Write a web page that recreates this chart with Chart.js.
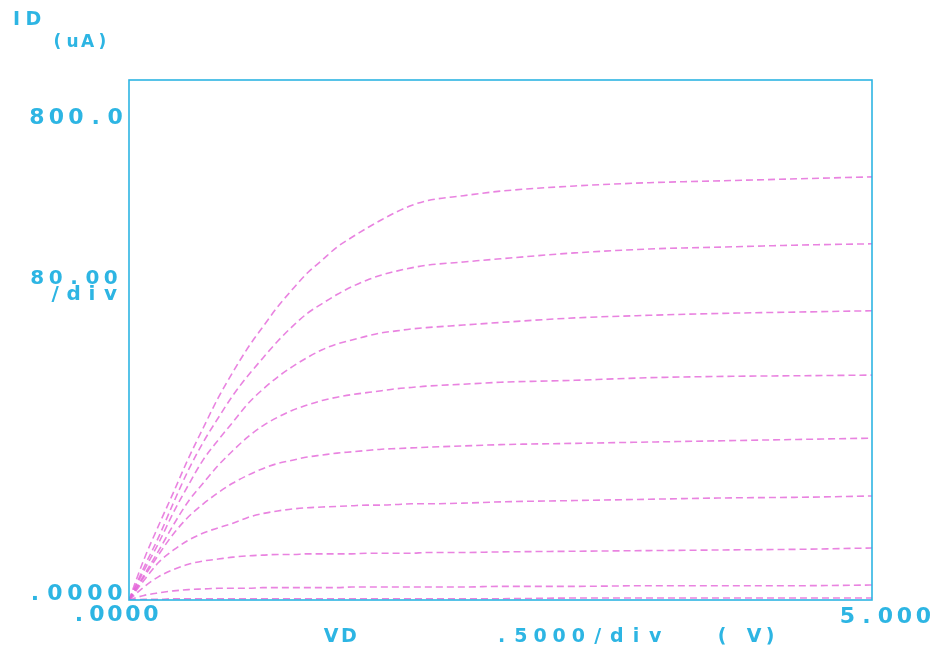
<!DOCTYPE html>
<html>
<head>
<meta charset="utf-8">
<script src="https://cdn.jsdelivr.net/npm/chart.js@4/dist/chart.umd.min.js"></script>
<style>
  html, body { margin: 0; padding: 0; background: #ffffff; }
  #wrap { width: 938px; height: 655px; position: relative; }
</style>
</head>
<body>
<div id="wrap"><canvas id="ivCurve"></canvas></div>
<script>
// drain voltage sweep (V)
var vdValues = [0, 0.1, 0.2, 0.3, 0.4, 0.5, 0.6, 0.7, 0.8, 0.9, 1.0, 1.1, 1.2, 1.3, 1.4,
                1.5, 1.6, 1.7, 1.8, 1.9, 2.0, 2.25, 2.5, 3.0, 3.5, 4.0, 4.5, 5.0];

// drain current (uA), one array per gate step, highest gate first
var idStep1 = [0, 62, 115, 166, 218, 265, 311, 351, 388, 420, 451, 478, 503, 523, 543, 558, 572, 585, 597, 607, 614, 622, 629, 637, 642, 645, 648, 651];
var idStep2 = [0, 50, 97, 150, 200, 243, 280, 315, 345, 372, 398, 421, 441, 456, 470, 482, 492, 500, 506, 511, 515, 520, 525, 534, 540, 543, 546, 548];
var idStep3 = [0, 45, 88, 135, 177, 216, 246, 274, 302, 324, 343, 359, 373, 385, 394, 400, 406, 411, 414, 417, 419, 423, 427, 434, 438, 441, 443, 445];
var idStep4 = [0, 38, 76, 116, 152, 180, 207, 230, 251, 268, 281, 292, 300, 307, 312, 316, 319, 322, 325, 327, 329, 332, 335, 338, 342, 344, 345, 346];
var idStep5 = [0, 35, 70, 102, 128, 148, 165, 180, 192, 202, 210, 215, 220, 223, 226, 228, 230, 232, 233, 234, 235, 237, 239, 241, 243, 245, 247, 249];
var idStep6 = [0, 30, 58, 77, 92, 103, 111, 118, 127, 133, 137, 140, 142, 143, 144, 145, 146, 146, 147, 148, 148, 149, 151, 153, 155, 157, 158, 160];
var idStep7 = [0, 20, 36, 47, 55, 60, 63, 66, 68, 69, 70, 70, 71, 71, 71, 71, 72, 72, 72, 72, 73, 73, 74, 75, 76, 77, 78, 80];
var idStep8 = [0, 7, 11, 14, 16, 17, 18, 18, 18, 19, 19, 19, 19, 19, 19, 20, 20, 20, 20, 20, 20, 20, 21, 21, 22, 22, 22, 23];
var idStep9 = [0, 1, 1, 2, 2, 2, 2, 2, 2, 2, 2, 2, 2, 2, 2, 2, 2, 2, 2, 2, 2, 2, 2, 3, 3, 3, 3, 3];

var idSteps = [idStep1, idStep2, idStep3, idStep4, idStep5, idStep6, idStep7, idStep8, idStep9];

// axis scaling and the printed labels
var vdMin = 0, vdMax = 5;
var idMin = 0, idMax = 800;
var yTopLabel = "800.0";
var yBottomLabel = ".0000";
var yDivLabel = ["80.00", "/div"];
var xLeftLabel = ".0000";
var xRightLabel = "5.000";
var xName = "VD";
var xDivLabel = ".5000/div";
var xUnit = "( V)";
var yName = "ID";
var yUnit = "(uA)";

var penCyan = "#2db5e3";
var penMagenta = "rgba(228, 100, 216, 0.8)";
var penFont = "'DejaVu Sans'";

function toPoints(ys) {
    var pts = [];
    for (var i = 0; i < vdValues.length; i++) {
        pts.push({ x: vdValues[i], y: ys[i] });
    }
    return pts;
}

var datasets = [];
for (var s = 0; s < idSteps.length; s++) {
    datasets.push({
        data: toPoints(idSteps[s]),
        borderColor: penMagenta,
        borderWidth: 1.6,
        borderDash: [7, 4],
        pointRadius: 0,
        fill: false,
        cubicInterpolationMode: "monotone"
    });
}

// draw a string with a fixed character pitch, like a pen plotter
function plotText(ctx, text, left, mid, pitch) {
    for (var i = 0; i < text.length; i++) {
        ctx.fillText(text[i], left + pitch * (i + 0.5), mid);
    }
}

var plotterFrame = {
    id: "plotterFrame",
    afterDraw: function (chart) {
        var ctx = chart.ctx;
        var a = chart.chartArea;
        var xs = chart.scales.x;
        var ys = chart.scales.y;
        ctx.save();
        ctx.strokeStyle = penCyan;
        ctx.lineWidth = 1.6;
        ctx.strokeRect(a.left, a.top, a.right - a.left, a.bottom - a.top);

        ctx.fillStyle = penCyan;
        ctx.textAlign = "center";
        ctx.textBaseline = "middle";

        ctx.font = "bold 19px " + penFont;
        plotText(ctx, yName, 8, 20, 17);
        ctx.font = "bold 17px " + penFont;
        plotText(ctx, yUnit, 50, 43, 15);

        ctx.font = "bold 22px " + penFont;
        plotText(ctx, yTopLabel, a.left - 102, ys.getPixelForValue(idMax) + 38, 19.6);
        plotText(ctx, yBottomLabel, a.left - 104, ys.getPixelForValue(idMin) - 6, 20);

        ctx.font = "bold 20px " + penFont;
        plotText(ctx, yDivLabel[0], a.left - 101, 279, 18.4);
        plotText(ctx, yDivLabel[1], a.left - 83, 295, 18.4);

        ctx.font = "bold 22px " + penFont;
        plotText(ctx, xLeftLabel, xs.getPixelForValue(vdMin) - 59, a.bottom + 15, 18);
        plotText(ctx, xRightLabel, xs.getPixelForValue(vdMax) - 34, a.bottom + 17, 19);

        ctx.font = "bold 19px " + penFont;
        plotText(ctx, xName, 322, a.bottom + 37, 18);
        plotText(ctx, xDivLabel, 492, a.bottom + 37, 19.2);
        plotText(ctx, xUnit, 714, a.bottom + 37, 16);
        ctx.restore();
    }
};

new Chart(document.getElementById("ivCurve").getContext("2d"), {
    type: "line",
    data: { datasets: datasets },
    options: {
        responsive: true,
        maintainAspectRatio: false,
        animation: false,
        layout: { padding: { left: 129, right: 66, top: 80, bottom: 55 } },
        plugins: {
            legend: { display: false },
            tooltip: { enabled: false }
        },
        scales: {
            x: { type: "linear", min: vdMin, max: vdMax, display: false },
            y: { type: "linear", min: idMin, max: idMax, display: false }
        }
    },
    plugins: [plotterFrame]
});
</script>
</body>
</html>
